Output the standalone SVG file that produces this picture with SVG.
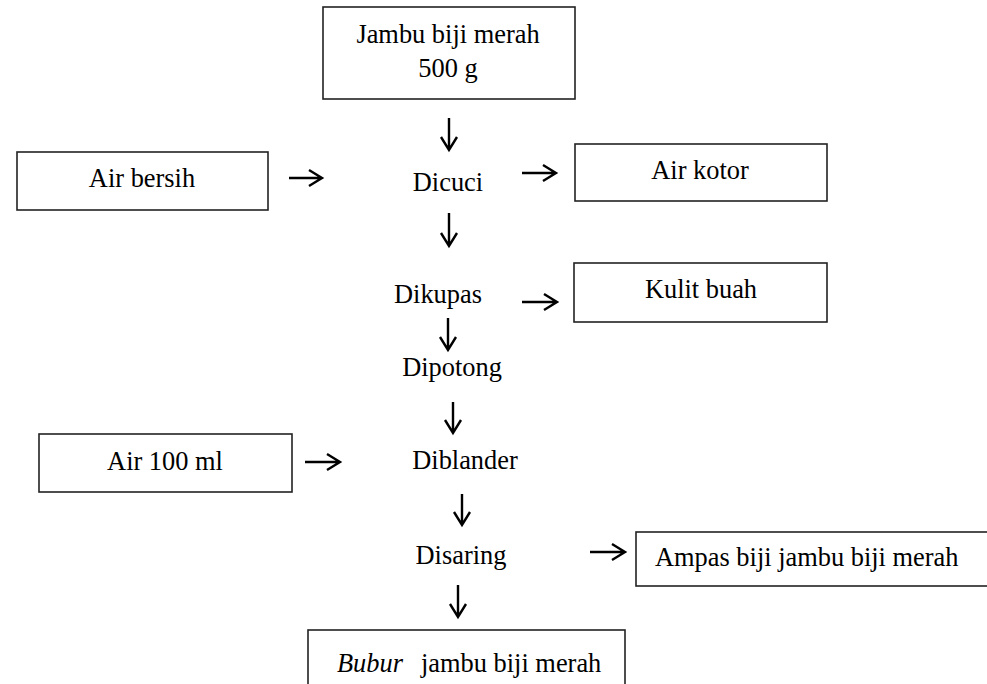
<svg xmlns="http://www.w3.org/2000/svg" width="987" height="684" viewBox="0 0 987 684">
<style>
.box{fill:#fff;stroke:#222;stroke-width:1.6}
text{font-family:"Liberation Serif","Times New Roman","DejaVu Serif",serif;font-size:26.4px;fill:#000}
.c{text-anchor:middle}
.arr{fill:none;stroke:#000;stroke-width:2.4;stroke-linecap:butt;stroke-linejoin:miter}
</style>
<rect width="987" height="684" fill="#fff"/>
<g id="n-jambu"><rect class="box" x="323" y="7" width="252" height="92"/><text class="c" x="448" y="43">Jambu biji merah</text><text class="c" x="448" y="77">500 g</text></g>
<g id="n-airbersih"><rect class="box" x="17" y="152" width="251" height="58"/><text class="c" x="142" y="187">Air bersih</text></g>
<g id="n-dicuci"><text class="c" x="448" y="191">Dicuci</text></g>
<g id="n-airkotor"><rect class="box" x="575" y="144" width="252" height="57"/><text class="c" x="700" y="179">Air kotor</text></g>
<g id="n-dikupas"><text class="c" x="438" y="303">Dikupas</text></g>
<g id="n-kulit"><rect class="box" x="574" y="263" width="253" height="59"/><text class="c" x="701" y="298">Kulit buah</text></g>
<g id="n-dipotong"><text class="c" x="452" y="376">Dipotong</text></g>
<g id="n-air100"><rect class="box" x="39" y="434" width="253" height="58"/><text class="c" x="165" y="470">Air 100 ml</text></g>
<g id="n-diblander"><text class="c" x="465" y="469">Diblander</text></g>
<g id="n-disaring"><text class="c" x="461" y="564">Disaring</text></g>
<g id="n-ampas"><rect class="box" x="636" y="532" width="370" height="54"/><text x="655" y="566">Ampas biji jambu biji merah</text></g>
<g id="n-bubur"><rect class="box" x="308" y="630" width="317" height="80"/><text x="337" y="672"><tspan font-style="italic">Bubur</tspan><tspan x="421">jambu biji merah</tspan></text></g>
<g id="connectors">
<path class="arr" d="M449 118V150M441 137L449 150L457 137"/>
<path class="arr" d="M289 178H322M309 170L322 178L309 186"/>
<path class="arr" d="M522 173H556M543 165L556 173L543 181"/>
<path class="arr" d="M449 213V246M441 233L449 246L457 233"/>
<path class="arr" d="M522 302H557M544 294L557 302L544 310"/>
<path class="arr" d="M448 318V350M440 337L448 350L456 337"/>
<path class="arr" d="M453 402V433M445 420L453 433L461 420"/>
<path class="arr" d="M305 462H340M327 454L340 462L327 470"/>
<path class="arr" d="M462 494V525M454 512L462 525L470 512"/>
<path class="arr" d="M590 552H625M612 544L625 552L612 560"/>
<path class="arr" d="M458 585V617M450 604L458 617L466 604"/>
</g>
</svg>
